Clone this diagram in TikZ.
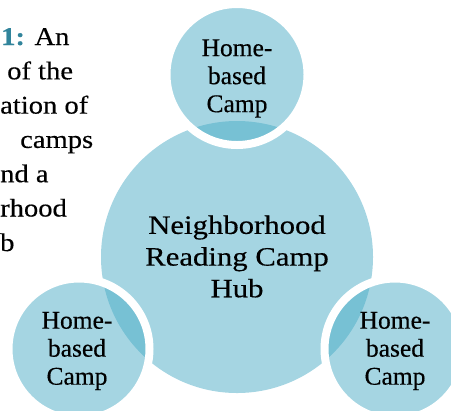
\documentclass[tikz,border=0pt]{standalone}
\usepackage{fontspec}
\setmainfont{Liberation Serif}
\newfontfamily\hubfont{Liberation Serif}[FakeStretch=1.16, FakeBold=0.4]
\newfontfamily\satfont{Liberation Serif}[FakeStretch=1.0, FakeBold=0.4]
\newfontfamily\capfont{Liberation Serif}[FakeStretch=1.12, FakeBold=0.4]
\definecolor{acc}{HTML}{4BACC6}
\definecolor{capteal}{HTML}{31849B}
\begin{document}
\begin{tikzpicture}[x=1bp,y=-1bp,
  hubc/.style={circle, fill=acc, fill opacity=0.5, minimum size=272bp, inner sep=0pt},
  satc/.style={circle, fill=acc, fill opacity=0.5, draw=white, draw opacity=1, line width=8bp, minimum size=141bp, inner sep=0pt},
  hubtxt/.style={align=center, text=black, inner sep=0pt, font=\hubfont\fontsize{26.5bp}{31.7bp}\selectfont},
  sattxt/.style={align=center, text=black, inner sep=0pt, font=\satfont\fontsize{25.5bp}{28bp}\selectfont},
  captxt/.style={anchor=base west, inner sep=0pt, text=black, font=\capfont\fontsize{25.5bp}{34bp}\selectfont}]
\useasboundingbox (0,0) rectangle (451,410);
\clip (0,0) rectangle (451,410);
% caption fragments
\node[captxt] (c1) at (1,45) {\textcolor{capteal}{\bfseries 1:} An};
\node[captxt] (c2) at (7,79.3) {of the};
\node[captxt] (c3) at (0,113.6) {ation of};
\node[captxt] (c4) at (20,147.9) {camps};
\node[captxt] (c5) at (0,182.2) {nd a};
\node[captxt] (c6) at (0,216.5) {rhood};
\node[captxt] (c7) at (0,251) {b};
% circles
\node[hubc] (hub) at (237,257) {};
\node[satc] (top) at (237,74.5) {};
\node[satc] (bl) at (79,349) {};
\node[satc] (br) at (395,349) {};
% labels
\node[hubtxt] (hubl) at (237,256.5) {Neighborhood\\Reading Camp\\Hub};
\node[sattxt] (topl) at (237,78.5) {Home-\\based\\Camp};
\node[sattxt] (bll) at (77,351) {Home-\\based\\Camp};
\node[sattxt] (brl) at (395,351) {Home-\\based\\Camp};
\end{tikzpicture}
\end{document}
